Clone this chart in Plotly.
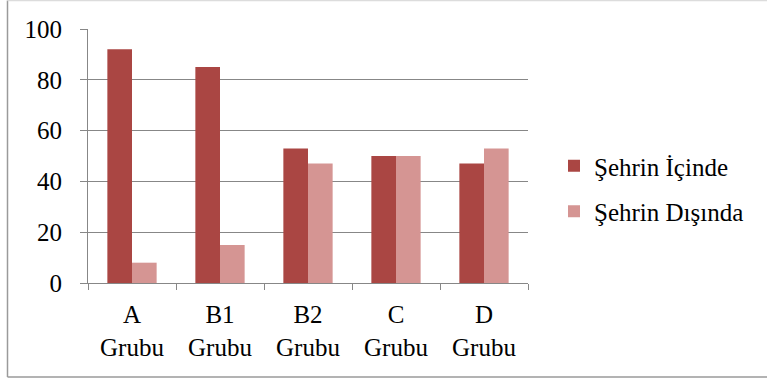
import plotly.graph_objects as go

categories = ["A<br>Grubu", "B1<br>Grubu", "B2<br>Grubu", "C<br>Grubu", "D<br>Grubu"]
inside_city = [92, 85, 53, 50, 47]
outside_city = [8, 15, 47, 50, 53]
series_names = ["Şehrin İçinde", "Şehrin Dışında"]
y_ticks = [0, 20, 40, 60, 80, 100]

DARK = "#AA4643"
LIGHT = "#D59593"
GRID = "#878787"
FONT = "Liberation Serif, Times New Roman, serif"

fig = go.Figure()
fig.add_trace(go.Bar(x=categories, y=inside_city, name=series_names[0],
                     marker=dict(color=DARK, line=dict(width=0)), legendgroup="a"))
fig.add_trace(go.Bar(x=categories, y=outside_city, name=series_names[1],
                     marker=dict(color=LIGHT, line=dict(width=0)), legendgroup="b"))

# plot area: x 88..528 px, y 29..283 px
W, H = 767, 385
L, R, T, B = 88, 239, 29, 102
pw, ph = W - L - R, H - T - B

def px(x):
    return (x - L) / pw

def py(y):
    return (H - B - y) / ph

fig.update_layout(
    width=W, height=H,
    margin=dict(l=L, r=R, t=T, b=B),
    paper_bgcolor="white", plot_bgcolor="white",
    barmode="group", bargap=0.44, bargroupgap=0,
    font=dict(family=FONT, size=24, color="black"),
    legend=dict(x=px(554), y=py(143), xanchor="left", yanchor="top",
                font=dict(family=FONT, size=25, color="black"),
                tracegroupgap=10, itemwidth=30, bgcolor="rgba(0,0,0,0)"),
    showlegend=True,
    xaxis=dict(showline=True, linecolor=GRID, linewidth=1,
               ticks="outside", tickson="boundaries", ticklen=6,
               tickcolor=GRID, showgrid=False, ticklabelstandoff=9,
               tickfont=dict(family=FONT, size=25)),
    yaxis=dict(range=[0, 100], tickvals=y_ticks, showline=True,
               linecolor=GRID, linewidth=1, ticks="outside", ticklen=7,
               tickcolor=GRID, showgrid=True, gridcolor=GRID, gridwidth=1,
               zeroline=False, ticklabelstandoff=13,
               tickfont=dict(family=FONT, size=25)),
    shapes=[
        dict(type="line", xref="paper", yref="paper", x0=px(7.5), x1=px(7.5),
             y0=py(0.5), y1=py(377), line=dict(color="#9a9a9a", width=1.5)),
        dict(type="line", xref="paper", yref="paper", x0=px(7.5), x1=px(770),
             y0=py(377), y1=py(377), line=dict(color="#9a9a9a", width=1.5)),
        dict(type="line", xref="paper", yref="paper", x0=px(7.5), x1=px(770),
             y0=py(0.5), y1=py(0.5), line=dict(color="#dcdcdc", width=1.5)),
    ],
)

fig.write_html("out.html")
